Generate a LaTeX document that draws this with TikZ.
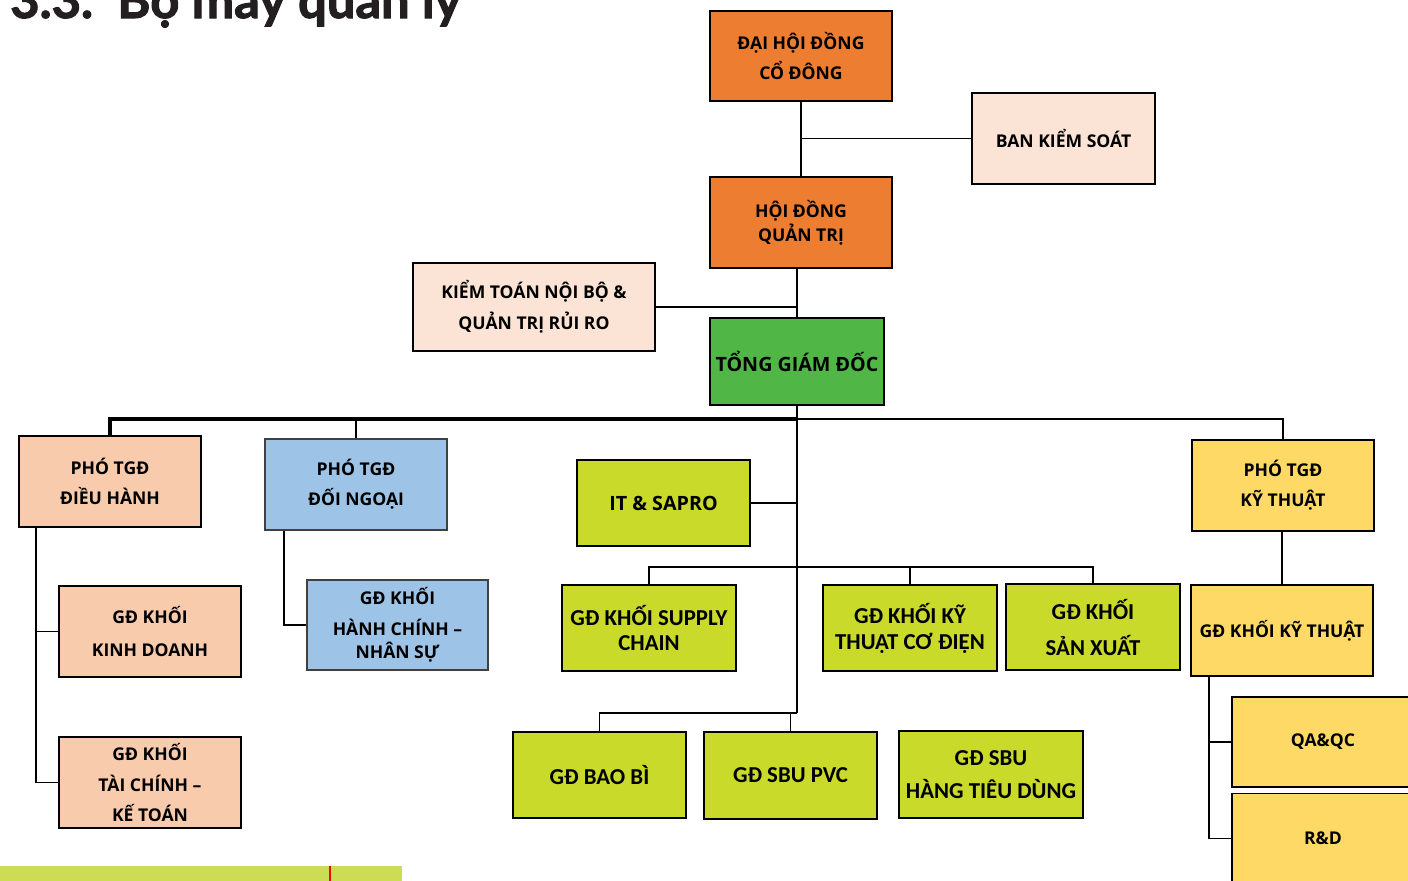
\documentclass[tikz,border=0pt]{standalone}
\usepackage{fontspec}
\setmainfont{Open Sans}
\newfontfamily\condfont{Carlito}
\newfontfamily\titlefont[BoldFeatures={FakeBold=2}]{Lato}

\definecolor{orgbox}{HTML}{ED7D31}
\definecolor{lightpeach}{HTML}{FBE4D5}
\definecolor{peach}{HTML}{F8CBAD}
\definecolor{bluebox}{HTML}{9DC3E6}
\definecolor{greenbox}{HTML}{50B747}
\definecolor{limebox}{HTML}{C9DA2B}
\definecolor{yellowbox}{HTML}{FFD966}
\definecolor{footgreen}{HTML}{CCDD55}
\definecolor{titlegray}{HTML}{231F20}

\begin{document}
\begin{tikzpicture}[
    x=0.025cm, y=-0.025cm,
    box/.style={rectangle, draw, line width=1.4pt, align=center, inner sep=0pt,
        font=\bfseries\fontsize{12.5}{22}\selectfont},
    topbox/.style={box, line width=2pt},
    bluebx/.style={box, fill=bluebox, draw=black!75, line width=0.9pt},
    cbox/.style={box, fill=limebox, font=\condfont\bfseries\fontsize{16.2}{18}\selectfont},
    conn/.style={line width=1.3pt},
    bus/.style={line width=2.2pt}
]
    \useasboundingbox (0,0) rectangle (1408,881);

    \node[anchor=base west, inner sep=0pt, text=titlegray,
        font=\titlefont\bfseries\fontsize{36}{40}\selectfont] (secnum) at (10,18) {3.3.};
    \node[anchor=base west, inner sep=0pt, text=titlegray,
        font=\titlefont\bfseries\fontsize{36}{40}\selectfont] (title) at (117,18) {Bộ máy quản lý};

    \node[
        topbox,
        fill=orgbox,
        minimum width=4.55cm,
        minimum height=2.25cm
    ] (dhdcd) at (801,56) {ĐẠI HỘI ĐỒNG\\CỔ ĐÔNG};

    \node[
        topbox,
        fill=lightpeach,
        minimum width=4.575cm,
        minimum height=2.275cm
    ] (bks) at (1063.5,138.5) {BAN KIỂM SOÁT};

    \node[
        topbox,
        fill=orgbox,
        minimum width=4.55cm,
        minimum height=2.275cm
    ] (hdqt) at (801,222.5) {HỘI ĐỒNG\\[-5pt]QUẢN TRỊ};

    \node[
        box,
        fill=lightpeach,
        minimum width=6.05cm,
        minimum height=2.2cm
    ] (ktnb) at (534,307) {KIỂM TOÁN NỘI BỘ \&\\QUẢN TRỊ RỦI RO};

    \node[
        box,
        fill=greenbox,
        font=\bfseries\fontsize{14}{22}\selectfont,
        minimum width=4.35cm,
        minimum height=2.175cm
    ] (tgd) at (797,361.5) {TỔNG GIÁM ĐỐC};

    \node[
        box,
        fill=peach,
        minimum width=4.55cm,
        minimum height=2.275cm
    ] (ptdh) at (110,481.5) {PHÓ TGĐ\\[-0.5pt]ĐIỀU HÀNH};

    \node[
        bluebx,
        minimum width=4.55cm,
        minimum height=2.275cm
    ] (ptdn) at (356,484.5) {PHÓ TGĐ\\[-0.5pt]ĐỐI NGOẠI};

    \node[
        cbox,
        font=\bfseries\fontsize{14}{22}\selectfont,
        minimum width=4.325cm,
        minimum height=2.15cm
    ] (it) at (663.5,503) {IT \& SAPRO};

    \node[
        box,
        fill=yellowbox,
        minimum width=4.55cm,
        minimum height=2.275cm
    ] (ptkt) at (1283,485.5) {PHÓ TGĐ\\[-0.5pt]KỸ THUẬT};

    \node[
        box,
        fill=peach,
        minimum width=4.55cm,
        minimum height=2.275cm
    ] (kd) at (150,631.5) {GĐ KHỐI\\[0.8pt]KINH DOANH};

    \node[
        box,
        fill=peach,
        minimum width=4.55cm,
        minimum height=2.275cm
    ] (tckt) at (150,782.5) {GĐ KHỐI\\TÀI CHÍNH –\\KẾ TOÁN};

    \node[
        bluebx,
        minimum width=4.525cm,
        minimum height=2.25cm
    ] (hcns) at (397.5,625) {GĐ KHỐI\\HÀNH CHÍNH –\\[-5.6pt]NHÂN SỰ};

    \node[
        cbox,
        minimum width=4.35cm,
        minimum height=2.15cm
    ] (sc) at (649,628) {GĐ KHỐI SUPPLY\\CHAIN};

    \node[
        cbox,
        minimum width=4.35cm,
        minimum height=2.15cm
    ] (ktcd) at (910,628) {GĐ KHỐI KỸ\\[0.5pt]THUẬT CƠ ĐIỆN};

    \node[
        cbox,
        minimum width=4.35cm,
        minimum height=2.15cm
    ] (sx) at (1093,627) {GĐ KHỐI\\[7.6pt]SẢN XUẤT};

    \node[
        box,
        fill=yellowbox,
        minimum width=4.55cm,
        minimum height=2.275cm
    ] (gdkt) at (1282,630.5) {GĐ KHỐI KỸ THUẬT};

    \node[
        cbox,
        minimum width=4.325cm,
        minimum height=2.15cm
    ] (bb) at (599.5,775) {GĐ BAO BÌ};

    \node[
        cbox,
        minimum width=4.325cm,
        minimum height=2.175cm
    ] (pvc) at (790.5,775.5) {GĐ SBU PVC};

    \node[
        cbox,
        minimum width=4.6cm,
        minimum height=2.175cm
    ] (htd) at (991,774.5) {GĐ SBU\\[5.5pt]HÀNG TIÊU DÙNG};

    \node[
        box,
        fill=yellowbox,
        minimum width=4.55cm,
        minimum height=2.25cm
    ] (qaqc) at (1323,742) {QA\&QC};

    \node[
        box,
        fill=yellowbox,
        minimum width=4.55cm,
        minimum height=2.25cm
    ] (rnd) at (1323,838.5) {R\&D};

    \coordinate (topbus) at (797,419);
    \coordinate (midbus) at (797,567);
    \coordinate (trunk) at (797,713);
    \coordinate (dhline) at ([xshift=0.45cm]ptdh.south west);
    \coordinate (dnline) at ([xshift=0.5cm]ptdn.south west);
    \coordinate (ktline) at ([xshift=0.475cm]gdkt.south west);

    \draw[conn] (dhdcd.south) -- (hdqt.north);
    \draw[conn] (bks.west) -- (bks.west -| dhdcd.south);
    \draw[conn] (tgd.north) -- (tgd.north |- hdqt.south);
    \draw[conn] (ktnb.east) -- (ktnb.east -| tgd.north);
    \draw[conn] (tgd.south) -- (trunk);

    \draw[bus] (ptdh.north) |- (topbus);
    \draw[conn] (topbus) -| (ptkt.north);
    \draw[conn] (ptdn.north) -- (ptdn.north |- topbus);

    \draw[conn] (it.east) -- (it.east -| trunk);
    \draw[conn] (sc.north) |- (midbus) -| (sx.north);
    \draw[conn] (ktcd.north) -- (ktcd.north |- midbus);
    \draw[conn] (bb.north) |- (trunk);
    \draw[conn] (pvc.north) -- (pvc.north |- trunk);

    \draw[conn] (dhline) |- (tckt.west);
    \draw[conn] (kd.west) -- (kd.west -| dhline);
    \draw[conn] (dnline) |- (hcns.west);

    \draw[conn] (gdkt.north) -- (gdkt.north |- ptkt.south);
    \draw[conn] (ktline) |- (rnd.west);
    \draw[conn] (qaqc.west) -- (qaqc.west -| ktline);

    \fill[footgreen] (0,866) rectangle (402,881);
    \draw[red, line width=1.2pt] (330,866) -- (330,881);

\end{tikzpicture}
\end{document}
